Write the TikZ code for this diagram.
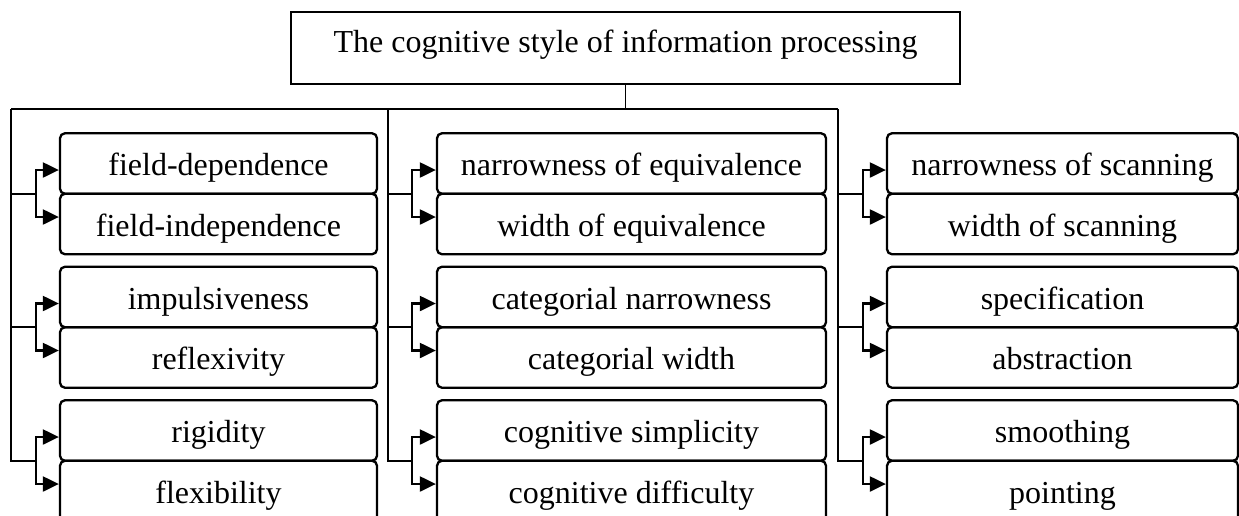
\documentclass[tikz,border=0pt]{standalone}
\usepackage{fontspec}
\setmainfont{Liberation Serif}
\usetikzlibrary{arrows.meta}
\begin{document}
\begin{tikzpicture}[x=1pt,y=-1pt,
  txt/.style={font=\fontsize{32}{38}\selectfont},
  box/.style={txt,draw,rounded corners=5pt,line width=2.3pt,minimum height=60.5pt,inner sep=0pt,text height=24pt,text depth=0pt},
  bwa/.style={box,minimum width=317pt},
  bwb/.style={box,minimum width=389pt},
  bwc/.style={box,minimum width=351pt},
  conn/.style={line width=1.5pt},
  arr/.style={line width=2.2pt,-{Triangle[length=16pt,width=15pt]}}]
\useasboundingbox (0,0) rectangle (1239,515);
\node[txt,draw,line width=1.8pt,minimum width=669pt,minimum height=72pt,inner sep=0pt,text height=22pt,text depth=14pt] (title) at (625.5,48) {The cognitive style of information processing};
% group a
\node[bwa] (a1) at (218.5,163.5) {field-dependence};
\node[bwa] (a2) at (218.5,224) {field-independence};
\node[bwa] (a3) at (218.5,297) {impulsiveness};
\node[bwa] (a4) at (218.5,357.5) {reflexivity};
\node[bwa] (a5) at (218.5,430.5) {rigidity};
\node[bwa] (a6) at (218.5,491) {flexibility};
% group b
\node[bwb] (b1) at (631.5,163.5) {narrowness of equivalence};
\node[bwb] (b2) at (631.5,224) {width of equivalence};
\node[bwb] (b3) at (631.5,297) {categorial narrowness};
\node[bwb] (b4) at (631.5,357.5) {categorial width};
\node[bwb] (b5) at (631.5,430.5) {cognitive simplicity};
\node[bwb] (b6) at (631.5,491) {cognitive difficulty};
% group c
\node[bwc] (c1) at (1062.5,163.5) {narrowness of scanning};
\node[bwc] (c2) at (1062.5,224) {width of scanning};
\node[bwc] (c3) at (1062.5,297) {specification};
\node[bwc] (c4) at (1062.5,357.5) {abstraction};
\node[bwc] (c5) at (1062.5,430.5) {smoothing};
\node[bwc] (c6) at (1062.5,491) {pointing};
% bus
\coordinate (busa) at (11,109);
\coordinate (busb) at (388,109);
\coordinate (busc) at (838,109);
\draw[conn] (title.south) -- (title.south |- busa);
\draw[conn] (busa) -- (busc);
\foreach \g/\fx in {a/36,b/412,c/863}{
  \foreach \p/\u/\l/\jy in {1/1/2/194,2/3/4/327,3/5/6/461}{
    \coordinate (f\g\p) at (\fx,\jy);
    \draw[arr] (f\g\p) |- ([yshift=-6.5pt]\g\u.west);
    \draw[arr] (f\g\p) |- ([yshift=7pt]\g\l.west);
  }
  \draw[conn] (bus\g) |- (f\g3);
  \draw[conn] (bus\g |- f\g1) -- (f\g1);
  \draw[conn] (bus\g |- f\g2) -- (f\g2);
}
\end{tikzpicture}
\end{document}
